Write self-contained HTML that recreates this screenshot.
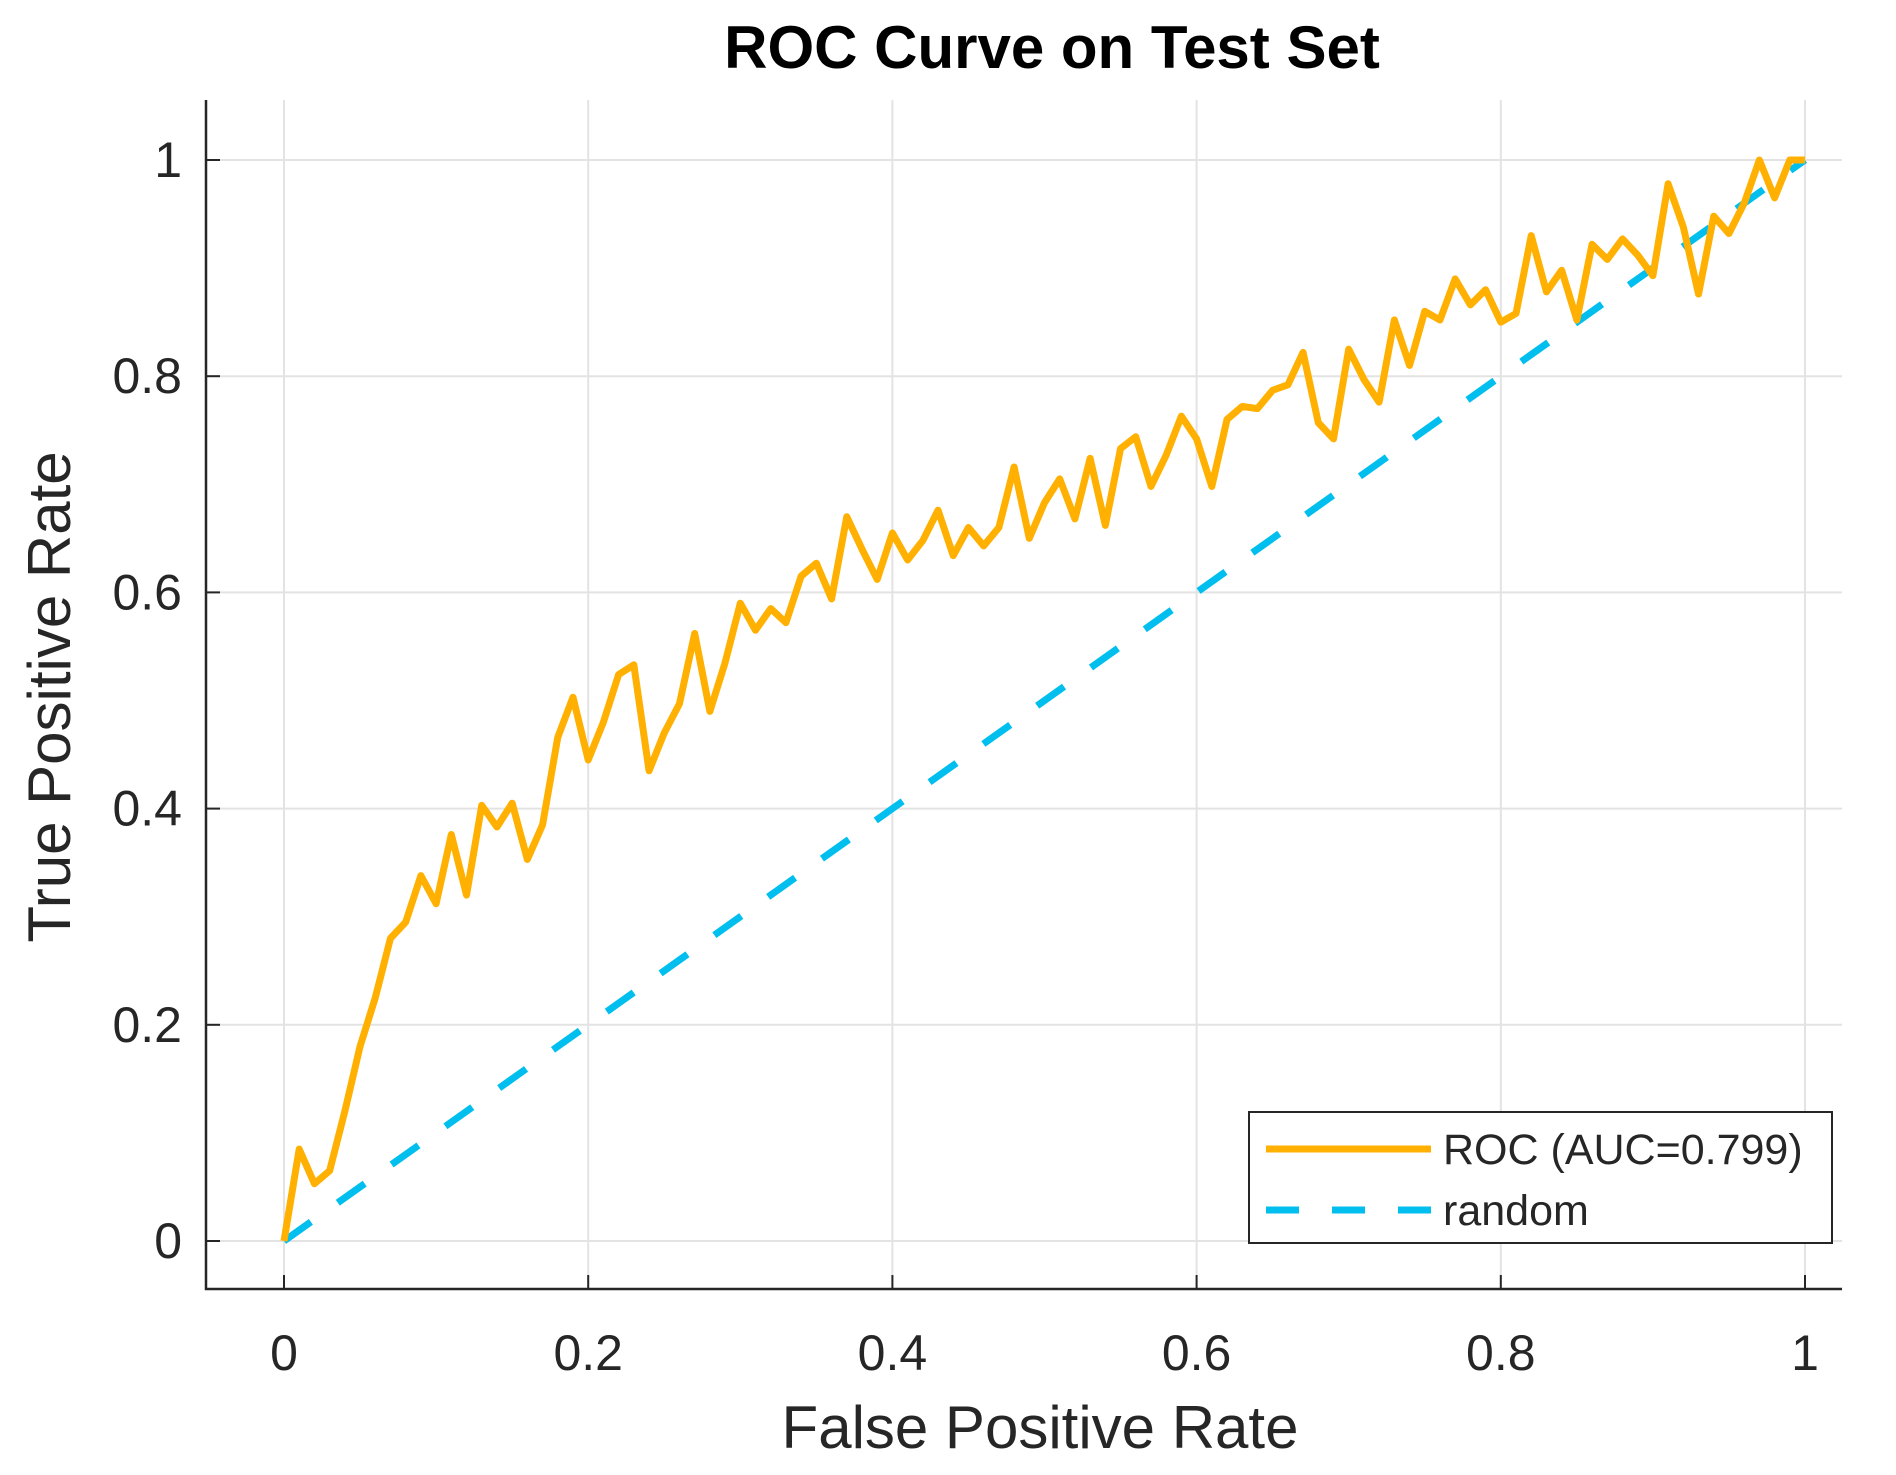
<!DOCTYPE html>
<html><head><meta charset="utf-8"><style>
body{margin:0;background:#fff}
svg text{font-family:"Liberation Sans",Arial,sans-serif}
</style></head><body>
<svg width="1896" height="1470" viewBox="0 0 1896 1470" xmlns="http://www.w3.org/2000/svg">
<g id="grid"></g>
<g id="axes"></g>
<g id="series"></g>
<text x="1052" y="68" text-anchor="middle" font-size="60" font-weight="bold" fill="#000">ROC Curve on Test Set</text>
<text x="1040" y="1448" text-anchor="middle" font-size="60" fill="#262626">False Positive Rate</text>
<text transform="translate(70,697) rotate(-90)" text-anchor="middle" font-size="60" fill="#262626">True Positive Rate</text>
<g>
<rect x="1249" y="1112" width="583" height="131" fill="#fff" stroke="#262626" stroke-width="2"/>
<line x1="1266" y1="1149" x2="1431" y2="1149" stroke="#FFB000" stroke-width="7"/>
<text x="1443" y="1164" font-size="43" fill="#262626">ROC (AUC=0.799)</text>
<line x1="1266" y1="1210" x2="1431" y2="1210" stroke="#00BFEF" stroke-width="7" stroke-dasharray="33,33"/>
<text x="1443" y="1225" font-size="43" fill="#262626">random</text>
</g>
</svg>
<script>
const fpr=[0,0.01,0.02,0.03,0.04,0.05,0.06,0.07,0.08,0.09,0.10,0.11,0.12,0.13,0.14,0.15,0.16,0.17,0.18,0.19,0.20,0.21,0.22,0.23,0.24,0.25,0.26,0.27,0.28,0.29,0.30,0.31,0.32,0.33,0.34,0.35,0.36,0.37,0.38,0.39,0.40,0.41,0.42,0.43,0.44,0.45,0.46,0.47,0.48,0.49,0.50,0.51,0.52,0.53,0.54,0.55,0.56,0.57,0.58,0.59,0.60,0.61,0.62,0.63,0.64,0.65,0.66,0.67,0.68,0.69,0.70,0.71,0.72,0.73,0.74,0.75,0.76,0.77,0.78,0.79,0.80,0.81,0.82,0.83,0.84,0.85,0.86,0.87,0.88,0.89,0.90,0.91,0.92,0.93,0.94,0.95,0.96,0.97,0.98,0.99,1.0];
const tpr=[0,0.085,0.053,0.065,0.12,0.18,0.225,0.28,0.295,0.338,0.312,0.376,0.32,0.403,0.383,0.405,0.353,0.385,0.466,0.503,0.445,0.48,0.524,0.533,0.435,0.47,0.497,0.562,0.49,0.535,0.59,0.565,0.585,0.572,0.615,0.627,0.594,0.67,0.64,0.612,0.655,0.63,0.648,0.676,0.634,0.66,0.643,0.66,0.716,0.65,0.683,0.705,0.668,0.724,0.662,0.733,0.744,0.698,0.727,0.763,0.742,0.698,0.76,0.772,0.77,0.787,0.792,0.822,0.757,0.742,0.825,0.797,0.776,0.852,0.81,0.86,0.852,0.89,0.866,0.88,0.85,0.858,0.93,0.878,0.898,0.852,0.922,0.908,0.927,0.912,0.893,0.978,0.938,0.876,0.948,0.932,0.96,1.0,0.965,1.0,1.0];
const randomX=[0,1];
const randomY=[0,1];
const xTicks=[0,0.2,0.4,0.6,0.8,1];
const yTicks=[0,0.2,0.4,0.6,0.8,1];
const xTickLabels=["0","0.2","0.4","0.6","0.8","1"];
const yTickLabels=["0","0.2","0.4","0.6","0.8","1"];

const NS="http://www.w3.org/2000/svg";
const X0=284,X1=1805,Y0=1241,Y1=160;
const L=206,R=1842,T=100,B=1289;
function sx(v){return X0+(X1-X0)*v;}
function sy(v){return Y0-(Y0-Y1)*v;}
function mk(tag,attrs,parent){const e=document.createElementNS(NS,tag);for(const k in attrs)e.setAttribute(k,attrs[k]);parent.appendChild(e);return e;}
const grid=document.getElementById('grid'),axes=document.getElementById('axes'),series=document.getElementById('series');
xTicks.forEach((t,i)=>{
  const g=mk('line',{x1:sx(t),x2:sx(t),y1:T,y2:B,stroke:'#e3e3e3','stroke-width':2},grid);
  
  
  const tk=mk('line',{x1:sx(t),x2:sx(t),y1:B,y2:B-14,stroke:'#262626','stroke-width':2},axes);
  
  
  const tx=mk('text',{x:sx(t),y:1370,'text-anchor':'middle','font-size':50,fill:'#262626'},axes);
  tx.textContent=xTickLabels[i];
  
  
});
yTicks.forEach((t,i)=>{
  const g=mk('line',{x1:L,x2:R,y1:sy(t),y2:sy(t),stroke:'#e3e3e3','stroke-width':2},grid);
  
  
  const tk=mk('line',{x1:L,x2:L+14,y1:sy(t),y2:sy(t),stroke:'#262626','stroke-width':2},axes);
  
  
  const tx=mk('text',{x:182,y:sy(t)+17,'text-anchor':'end','font-size':50,fill:'#262626'},axes);
  tx.textContent=yTickLabels[i];
  
  
});
const ax=mk('path',{d:`M${L},${T}V${B}H${R}`,fill:'none',stroke:'#262626','stroke-width':2.5},axes);


const rl=mk('polyline',{points:randomX.map((v,i)=>sx(v)+','+sy(randomY[i])).join(' '),fill:'none',stroke:'#00BFEF','stroke-width':7,'stroke-dasharray':'33,33'},series);


const roc=mk('polyline',{points:fpr.map((v,i)=>sx(v)+','+sy(tpr[i])).join(' '),fill:'none',stroke:'#FFB000','stroke-width':7,'stroke-linejoin':'round'},series);


</script>
</body></html>
